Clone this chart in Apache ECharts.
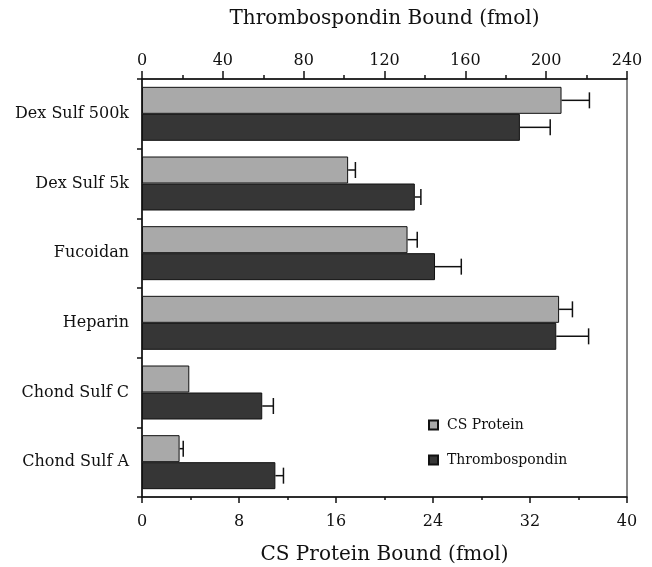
<!DOCTYPE html>
<html>
<head>
<meta charset="utf-8">
<script src="https://cdn.jsdelivr.net/npm/echarts@6/dist/echarts.min.js"></script>
<style>
html,body{margin:0;padding:0;background:#fff;}
#chart{width:652px;height:567px;}
</style>
</head>
<body>
<div id="chart"></div>
<script>
// Categories (top to bottom)
var categories = ['Dex Sulf 500k', 'Dex Sulf 5k', 'Fucoidan', 'Heparin', 'Chond Sulf C', 'Chond Sulf A'];
// CS Protein bound (fmol) – bottom axis
var csProtein = [34.6, 17.0, 21.9, 34.4, 3.9, 3.1];
var csProteinErr = [2.3, 0.6, 0.8, 1.1, 0, 0.3];
// Thrombospondin bound (fmol) – top axis
var thrombospondin = [187, 135, 145, 205, 59.5, 66];
var thrombospondinErr = [15, 3, 13, 16, 5.5, 4];
// Tick settings
var csTicks = {min: 0, max: 40, interval: 8};
var tspTicks = {min: 0, max: 240, interval: 40};

var FONT = 'DejaVu Serif';
var BAR_W = 27;

function errorSeries(name, values, errs, axisIndex, offset) {
  return {
    type: 'custom',
    name: name + ' err',
    xAxisIndex: axisIndex,
    z: 1,
    silent: true,
    data: values.map(function (v, i) { return [v, i, errs[i]]; }),
    renderItem: function (params, api) {
      var v = api.value(0), c = api.value(1), e = api.value(2);
      if (!e) return null;
      var p0 = api.coord([v, c]);
      var p1 = api.coord([v + e, c]);
      var y = p0[1] + offset;
      var half = 8;
      return {
        type: 'group',
        children: [
          {type: 'line', shape: {x1: p0[0], y1: y, x2: p1[0], y2: y}, style: {stroke: '#111', lineWidth: 1.5}},
          {type: 'line', shape: {x1: p1[0], y1: y - half, x2: p1[0], y2: y + half}, style: {stroke: '#111', lineWidth: 1.5}}
        ]
      };
    }
  };
}

var chart = echarts.init(document.getElementById('chart'));
chart.setOption({
  animation: false,
  backgroundColor: '#fff',
  textStyle: {fontFamily: FONT, color: '#111'},
  grid: {left: 142, right: 25, top: 79, bottom: 70, show: true, borderColor: '#111', borderWidth: 1,
         containLabel: false, outerBoundsMode: 'none'},
  legend: {
    orient: 'vertical',
    left: 423, top: 413,
    itemWidth: 9, itemHeight: 9,
    itemGap: 21,
    icon: 'rect',
    textStyle: {fontFamily: FONT, fontSize: 14, color: '#111', padding: [0, 0, 0, 4]},
    data: ['CS Protein', 'Thrombospondin']
  },
  xAxis: [
    {
      type: 'value', position: 'bottom',
      min: csTicks.min, max: csTicks.max, interval: csTicks.interval,
      name: 'CS Protein Bound (fmol)', nameLocation: 'middle', nameGap: 48,
      nameTextStyle: {fontFamily: FONT, fontSize: 20, color: '#111'},
      axisLine: {show: true, lineStyle: {color: '#111', width: 1.5}},
      axisTick: {show: true, length: 6, lineStyle: {color: '#111', width: 1.5}},
      minorTick: {show: true, splitNumber: 2, length: 3, lineStyle: {color: '#111', width: 1.5}},
      axisLabel: {fontFamily: FONT, fontSize: 16, color: '#111', margin: 17},
      splitLine: {show: false}
    },
    {
      type: 'value', position: 'top',
      min: tspTicks.min, max: tspTicks.max, interval: tspTicks.interval,
      name: 'Thrombospondin Bound (fmol)', nameLocation: 'middle', nameGap: 50,
      nameTextStyle: {fontFamily: FONT, fontSize: 20, color: '#111'},
      axisLine: {show: true, lineStyle: {color: '#111', width: 1.5}},
      axisTick: {show: true, length: 8, lineStyle: {color: '#111', width: 1.5}},
      minorTick: {show: true, splitNumber: 2, length: 4, lineStyle: {color: '#111', width: 1.5}},
      axisLabel: {fontFamily: FONT, fontSize: 16, color: '#111', margin: 10},
      splitLine: {show: false}
    }
  ],
  yAxis: {
    type: 'category',
    data: categories,
    inverse: true,
    axisLine: {show: true, lineStyle: {color: '#111', width: 1.5}},
    axisTick: {show: true, length: 5, lineStyle: {color: '#111', width: 1.5}},
    axisLabel: {fontFamily: FONT, fontSize: 16, color: '#111', margin: 13}
  },
  series: [
    {
      name: 'CS Protein', type: 'bar', xAxisIndex: 0,
      data: csProtein, barWidth: BAR_W, barGap: '0%', z: 2,
      itemStyle: {color: '#a9a9a9', borderColor: '#111', borderWidth: 1}
    },
    {
      name: 'Thrombospondin', type: 'bar', xAxisIndex: 1,
      data: thrombospondin, barWidth: BAR_W, barGap: '0%', z: 2,
      itemStyle: {color: '#363636', borderColor: '#111', borderWidth: 1}
    },
    errorSeries('CS Protein', csProtein, csProteinErr, 0, -BAR_W / 2),
    errorSeries('Thrombospondin', thrombospondin, thrombospondinErr, 1, BAR_W / 2)
  ]
});
</script>
</body>
</html>
